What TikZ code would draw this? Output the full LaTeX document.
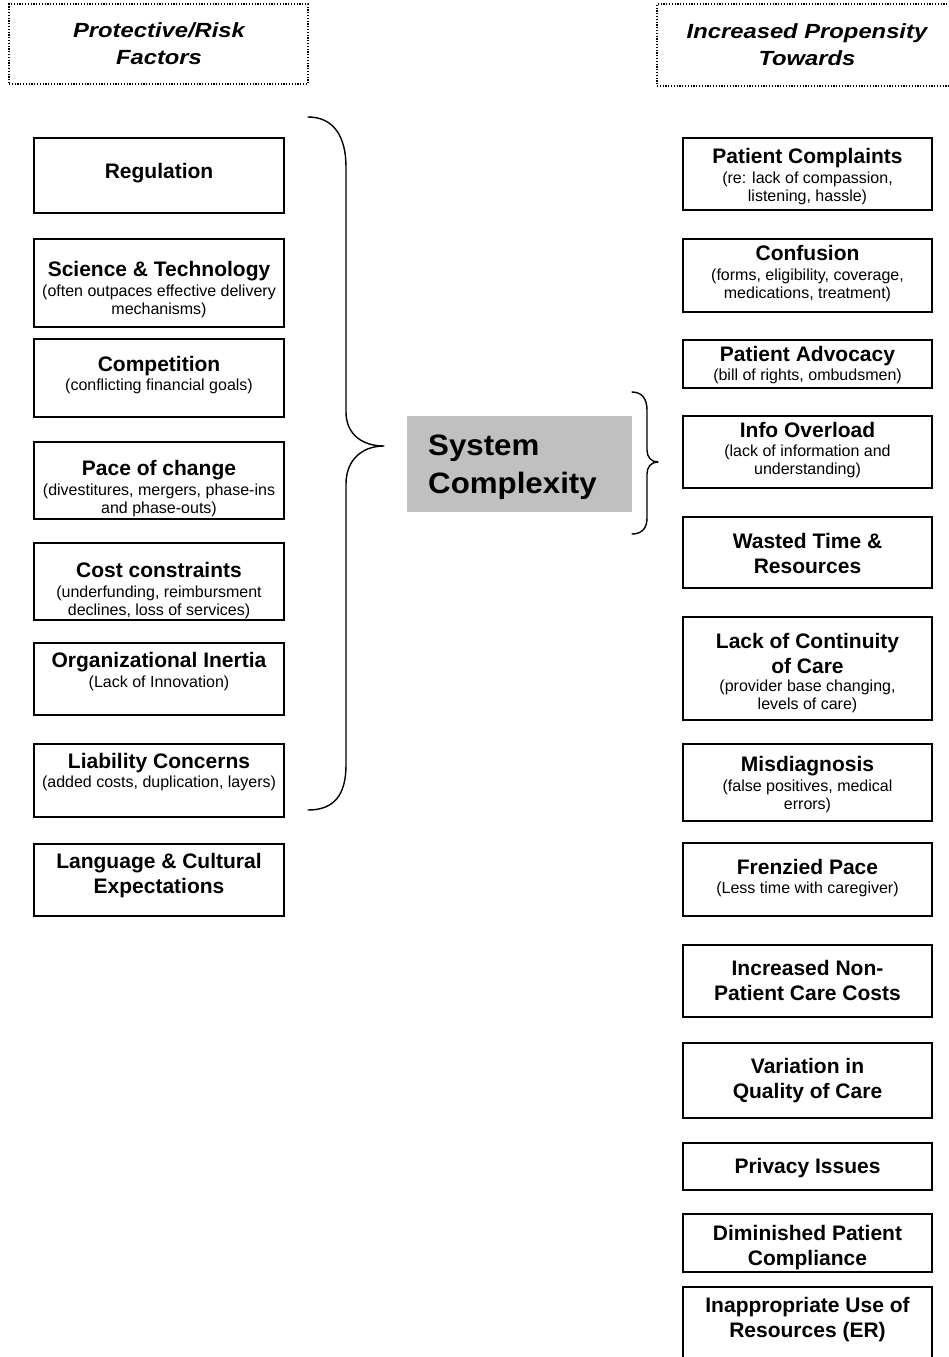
\documentclass[tikz,border=0pt]{standalone}
\usepackage{fontspec}
\setmainfont{Liberation Sans}
\newfontfamily\hdrfont[FakeStretch=1.16]{Liberation Sans}
\newfontfamily\sysfont[FakeStretch=1.06]{Liberation Sans}
\newcommand\mkbox[6][box]{\node[#1, anchor=north west, minimum width={#5-#3}, minimum height={#6-#4}] (#2) at (#3,#4) {};}
\newcommand\clines[1]{\begin{tabular}[t]{@{}c@{}}#1\end{tabular}}
\newcommand\llines[1]{\begin{tabular}[t]{@{}l@{}}#1\end{tabular}}
\definecolor{sysgray}{HTML}{C0C0C0}
\tikzset{
  box/.style={draw=black, line width=1.8pt, inner sep=0pt, outer sep=0pt, rectangle},
  hdrbox/.style={draw=black, line width=1.3pt, dash pattern=on 1.2pt off 1.6pt, inner sep=0pt, outer sep=0pt, rectangle},
  sysbox/.style={fill=sysgray, draw=none, inner sep=0pt, outer sep=0pt, rectangle},
  ttl/.style={font=\fontsize{21}{25}\selectfont\bfseries, inner sep=0pt, anchor=base},
  sub/.style={font=\fontsize{16}{18}\selectfont, inner sep=0pt, anchor=base},
  hdr/.style={font=\hdrfont\fontsize{20.5}{27}\selectfont\bfseries\itshape, inner sep=0pt, anchor=base},
  systxt/.style={font=\sysfont\fontsize{29.5}{38.5}\selectfont\bfseries, inner sep=0pt, anchor=base west},
  brace/.style={draw=black, line width=1.4pt, line cap=round, line join=round},
}
\begin{document}
\begin{tikzpicture}[x=1pt,y=-1pt]
\useasboundingbox (0,0) rectangle (949,1357);
\clip (0,0) rectangle (949,1357);
% headers
\mkbox[hdrbox]{hL}{9}{4}{308}{84}
\mkbox[hdrbox]{hR}{657}{4}{960}{86}
\node[hdr] (hLt) at (159,37) {\clines{Protective/Risk\\Factors}};
\node[hdr] (hRt) at (807,38) {\clines{Increased Propensity\\Towards}};
% center
\mkbox[sysbox]{sys}{407}{416}{632}{512}
\node[systxt] (syst) at (428,455) {\llines{System\\Complexity}};
% left column
\mkbox{L1}{34}{138}{284}{213}
\node[ttl] (L1t) at (159,178) {Regulation};
\mkbox{L2}{34}{239}{284}{327}
\node[ttl] (L2t) at (159,276) {Science \& Technology};
\node[sub] (L2s) at (159,296) {\clines{(often outpaces effective delivery\\mechanisms)}};
\mkbox{L3}{34}{339}{284}{417}
\node[ttl] (L3t) at (159,371) {Competition};
\node[sub] (L3s) at (159,390) {(conflicting financial goals)};
\mkbox{L4}{34}{442}{284}{519}
\node[ttl] (L4t) at (159,475) {Pace of change};
\node[sub] (L4s) at (159,495) {\clines{(divestitures, mergers, phase-ins\\and phase-outs)}};
\mkbox{L5}{34}{543}{284}{620}
\node[ttl] (L5t) at (159,577) {Cost constraints};
\node[sub] (L5s) at (159,597) {\clines{(underfunding, reimbursment\\declines, loss of services)}};
\mkbox{L6}{34}{643}{284}{715}
\node[ttl] (L6t) at (159,667) {Organizational Inertia};
\node[sub] (L6s) at (159,687) {(Lack of Innovation)};
\mkbox{L7}{34}{744}{284}{817}
\node[ttl] (L7t) at (159,768) {Liability Concerns};
\node[sub] (L7s) at (159,787) {(added costs, duplication, layers)};
\mkbox{L8}{34}{844}{284}{916}
\node[ttl] (L8t) at (159,868) {\clines{Language \& Cultural\\Expectations}};
% right column
\node[ttl] (R1t) at (807.5,163) {Patient Complaints};
\node[sub] (R1s) at (807.5,183) {\clines{(re: lack of compassion,\\listening, hassle)}};
\mkbox{R1}{683}{138}{932}{210}
\node[ttl] (R2t) at (807.5,260) {Confusion};
\node[sub] (R2s) at (807.5,280) {\clines{(forms, eligibility, coverage,\\medications, treatment)}};
\mkbox{R2}{683}{239}{932}{312}
\node[ttl] (R3t) at (807.5,361) {Patient Advocacy};
\node[sub] (R3s) at (807.5,380) {(bill of rights, ombudsmen)};
\mkbox{R3}{683}{340}{932}{388}
\node[ttl] (R4t) at (807.5,437) {Info Overload};
\node[sub] (R4s) at (807.5,456) {\clines{(lack of information and\\understanding)}};
\mkbox{R4}{683}{416}{932}{488}
\node[ttl] (R5t) at (807.5,548) {\clines{Wasted Time \&\\Resources}};
\mkbox{R5}{683}{517}{932}{588}
\node[ttl] (R6t) at (807.5,648) {\clines{Lack of Continuity\\of Care}};
\node[sub] (R6s) at (807.5,691) {\clines{(provider base changing,\\levels of care)}};
\fill[white] (684,720) rectangle (931,730);
\mkbox{R6}{683}{617}{932}{720}
\node[ttl] (R7t) at (807.5,771) {Misdiagnosis};
\node[sub] (R7s) at (807.5,791) {\clines{(false positives, medical\\errors)}};
\mkbox{R7}{683}{744}{932}{821}
\node[ttl] (R8t) at (807.5,874) {Frenzied Pace};
\node[sub] (R8s) at (807.5,893) {(Less time with caregiver)};
\mkbox{R8}{683}{843}{932}{916}
\node[ttl] (R9t) at (807.5,975) {\clines{Increased Non-\\Patient Care Costs}};
\mkbox{R9}{683}{945}{932}{1017}
\node[ttl] (R10t) at (807.5,1073) {\clines{Variation in\\Quality of Care}};
\mkbox{R10}{683}{1043}{932}{1118}
\node[ttl] (R11t) at (807.5,1173) {Privacy Issues};
\mkbox{R11}{683}{1143}{932}{1190}
\node[ttl] (R12t) at (807.5,1240) {\clines{Diminished Patient\\Compliance}};
\mkbox{R12}{683}{1214}{932}{1272}
\node[ttl] (R13t) at (807.5,1312) {\clines{Inappropriate Use of\\Resources (ER)}};
\mkbox{R13}{683}{1287}{932}{1390}
% braces
\draw[brace] (308,117) .. controls (334,117) and (346,137) .. (346,167)
  -- (346,412) .. controls (346,434) and (362,446) .. (384,446)
  .. controls (362,446) and (346,460) .. (346,484)
  -- (346,765) .. controls (346,795) and (334,810) .. (308,810);
\draw[brace] (632,392) .. controls (642,392) and (647,399) .. (647,410)
  -- (647,450) .. controls (647,457) and (651,462) .. (658,462)
  .. controls (651,462) and (647,467) .. (647,474)
  -- (647,518) .. controls (647,528) and (642,534) .. (632,534);
\end{tikzpicture}
\end{document}
